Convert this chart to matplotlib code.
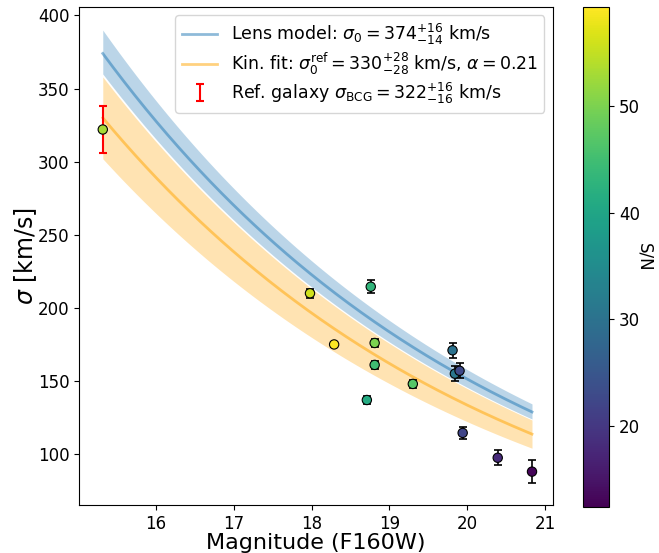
import numpy as np
import matplotlib
matplotlib.use("Agg")
import matplotlib.pyplot as plt

# Reference galaxy
ref_mag = 15.32
ref_sigma = 322
ref_err = 16
ref_sn = 53

# Lens galaxies
mag = [17.98, 18.29, 18.76, 18.81, 18.81, 18.71, 19.30, 19.81, 19.84, 19.90, 19.94, 20.39, 20.83]
sigma = [210, 175, 214.5, 176, 161, 137, 148, 171, 155, 157, 114.5, 97.5, 88]
sigma_err = [3, 2, 4.5, 3, 3, 3, 3, 5, 5, 5, 4, 5, 8]
sn = [56, 59, 43, 50, 45, 41, 47, 30, 31, 23, 22, 18, 13]

# Model parameters
lens_sigma0, lens_up, lens_lo = 374, 16, 14
kin_sigma0, kin_up, kin_lo = 330, 28, 28
alpha = 0.21
mag_max = 20.83
sn_min, sn_max = 12.4, 59.3

fig = plt.figure(figsize=(6.59, 5.53), dpi=100)
ax = fig.add_axes([0.1199, 0.0863, 0.7193, 0.9016])
cax = fig.add_axes([0.8847, 0.0832, 0.0395, 0.9042])

m = np.linspace(ref_mag, mag_max, 200)
scale = 10 ** (-0.4 * alpha * (m - ref_mag))

ax.fill_between(m, (kin_sigma0 - kin_lo) * scale, (kin_sigma0 + kin_up) * scale,
                color='orange', alpha=0.3, lw=0)
ax.plot(m, kin_sigma0 * scale, color='orange', alpha=0.5, lw=2,
        label=r'Kin. fit: $\sigma_0^{\rm ref} = 330^{+28}_{-28}$ km/s, $\alpha = 0.21$')
ax.fill_between(m, (lens_sigma0 - lens_lo) * scale, (lens_sigma0 + lens_up) * scale,
                color='C0', alpha=0.3, lw=0)
ax.plot(m, lens_sigma0 * scale, color='C0', alpha=0.5, lw=2,
        label=r'Lens model: $\sigma_0 = 374^{+16}_{-14}$ km/s')

ax.errorbar([ref_mag], [ref_sigma], yerr=[ref_err], fmt='none', ecolor='red',
            capsize=3, elinewidth=1.5, capthick=1.5,
            label=r'Ref. galaxy $\sigma_{\rm BCG} = 322^{+16}_{-16}$ km/s', zorder=3)
ax.errorbar(mag, sigma, yerr=sigma_err, fmt='none', ecolor='black',
            capsize=3, elinewidth=1.2, capthick=1.2, zorder=3)

all_mag = [ref_mag] + mag
all_sig = [ref_sigma] + sigma
all_sn = [ref_sn] + sn
sc = ax.scatter(all_mag, all_sig, c=all_sn, cmap='viridis', vmin=sn_min, vmax=sn_max,
                s=45, edgecolors='black', linewidths=0.8, zorder=4)

ax.set_xlim(15.015, 21.1)
ax.set_ylim(65, 406)
ax.set_xticks([16, 17, 18, 19, 20, 21])
ax.set_yticks([100, 150, 200, 250, 300, 350, 400])
ax.tick_params(labelsize=12)
ax.set_xlabel('Magnitude (F160W)', fontsize=16, labelpad=0)
ax.set_ylabel(r'$\sigma$ [km/s]', fontsize=17, labelpad=-1)

h, l = ax.get_legend_handles_labels()
order = [1, 0, 2]
ax.legend([h[i] for i in order], [l[i] for i in order], loc='upper right',
          fontsize=12.5, labelspacing=0.2)

cb = fig.colorbar(sc, cax=cax)
cb.set_ticks([20, 30, 40, 50])
cb.ax.tick_params(labelsize=12)
cb.set_label('S/N', fontsize=12, rotation=270, labelpad=10)

fig.savefig('out.png', dpi=100)
